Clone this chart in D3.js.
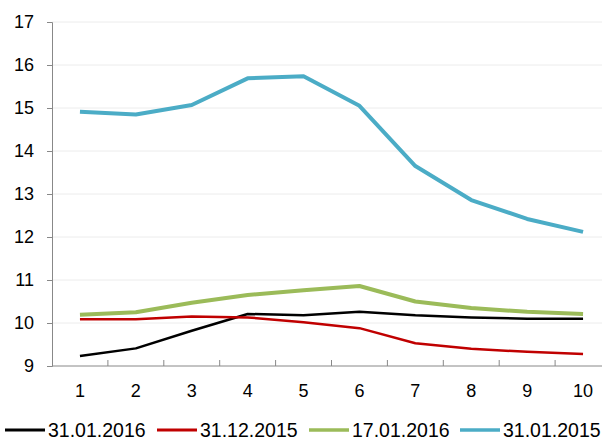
<!DOCTYPE html>
<html>
<head>
<meta charset="utf-8">
<script src="https://cdn.jsdelivr.net/npm/d3@7"></script>
<style>
  body { margin: 0; background: #fff; }
  svg text { font-family: "Liberation Sans", Arial, sans-serif; fill: #000; }
</style>
</head>
<body>
<svg id="chart" width="602" height="438"></svg>
<script>
var categories = [1, 2, 3, 4, 5, 6, 7, 8, 9, 10];
var yTicks = [9, 10, 11, 12, 13, 14, 15, 16, 17];

var s310116 = [9.23, 9.41, 9.82, 10.21, 10.18, 10.26, 10.18, 10.13, 10.10, 10.10];
var s311215 = [10.09, 10.09, 10.15, 10.13, 10.02, 9.88, 9.53, 9.40, 9.33, 9.28];
var s170116 = [10.19, 10.25, 10.47, 10.65, 10.76, 10.86, 10.50, 10.35, 10.26, 10.21];
var s310115 = [14.91, 14.85, 15.07, 15.69, 15.74, 15.05, 13.65, 12.86, 12.42, 12.12];

var series = [
  { name: "31.01.2016", values: s310116, color: "#000000", width: 2.5 },
  { name: "31.12.2015", values: s311215, color: "#c00000", width: 2.5 },
  { name: "17.01.2016", values: s170116, color: "#9bbb59", width: 4 },
  { name: "31.01.2015", values: s310115, color: "#4bacc6", width: 4 }
];

var svg = d3.select("#chart");
var plotL = 52, plotR = 611, plotT = 22, plotB = 366;

var x = d3.scaleBand().domain(categories).range([plotL, plotR]);
var y = d3.scaleLinear().domain([9, 17]).range([plotB, plotT]);

// gridlines
svg.append("g").selectAll("line").data(yTicks.slice(1)).enter().append("line")
  .attr("x1", plotL).attr("x2", plotR)
  .attr("y1", function(d){ return y(d); }).attr("y2", function(d){ return y(d); })
  .attr("stroke", "#ececec").attr("stroke-width", 1);

// y axis
var yAxis = svg.append("g").attr("transform", "translate(" + plotL + ",0)")
  .call(d3.axisLeft(y).tickValues(yTicks).tickSize(5).tickPadding(13));
yAxis.select(".domain").attr("stroke", "#888");
yAxis.selectAll(".tick line").attr("stroke", "#888");
yAxis.selectAll("text").attr("font-size", "18px").attr("fill", "#000")
  .attr("font-family", "'Liberation Sans', Arial, sans-serif");

// x axis, ticks between categories pointing up
var xAxisG = svg.append("g");
xAxisG.append("line").attr("x1", plotL).attr("x2", plotR)
  .attr("y1", plotB).attr("y2", plotB).attr("stroke", "#888");
xAxisG.selectAll("line.tk").data(categories.slice(1)).enter().append("line")
  .attr("class", "tk")
  .attr("x1", function(d){ return x(d); }).attr("x2", function(d){ return x(d); })
  .attr("y1", plotB).attr("y2", plotB - 6).attr("stroke", "#888");
xAxisG.selectAll("text").data(categories).enter().append("text")
  .attr("x", function(d){ return x(d) + x.bandwidth() / 2; })
  .attr("y", 397)
  .attr("text-anchor", "middle")
  .attr("font-size", "18px")
  .text(function(d){ return d; });

// lines
var line = d3.line()
  .x(function(d, i){ return x(categories[i]) + x.bandwidth() / 2; })
  .y(function(d){ return y(d); });

svg.append("g").selectAll("path").data(series).enter().append("path")
  .attr("d", function(d){ return line(d.values); })
  .attr("fill", "none")
  .attr("stroke", function(d){ return d.color; })
  .attr("stroke-width", function(d){ return d.width; })
  .attr("stroke-linejoin", "round");

// legend
var legendX = [5, 157, 309, 460];
var lg = svg.append("g").selectAll("g").data(series).enter().append("g")
  .attr("transform", function(d, i){ return "translate(" + legendX[i] + ",430)"; });
lg.append("line").attr("x1", 0).attr("x2", 40).attr("y1", 0).attr("y2", 0)
  .attr("stroke", function(d){ return d.color; })
  .attr("stroke-width", function(d){ return d.width === 4 ? 3.5 : 3; });
lg.append("text").attr("x", 43).attr("y", 7)
  .attr("font-size", "19.5px")
  .text(function(d){ return d.name; });
</script>
</body>
</html>
